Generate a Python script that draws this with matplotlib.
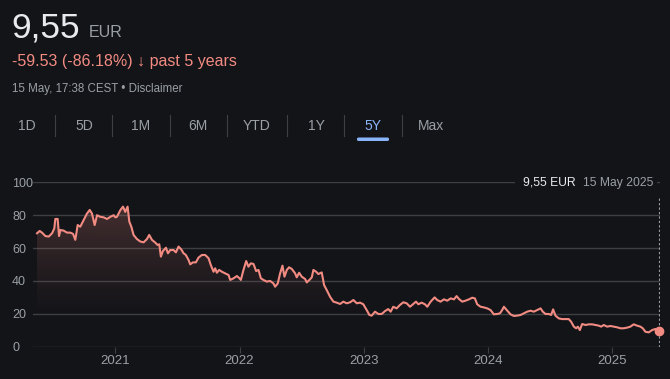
import numpy as np
import matplotlib
matplotlib.use("Agg")
import matplotlib.pyplot as plt
from matplotlib.colors import to_rgb
from matplotlib.patches import PathPatch, FancyBboxPatch, Rectangle
from matplotlib.path import Path
from matplotlib.lines import Line2D

# time as decimal years, price in EUR
t = [2020.370, 2020.391, 2020.410, 2020.437, 2020.464, 2020.491, 2020.509, 2020.517,
     2020.536, 2020.547, 2020.558, 2020.584, 2020.611, 2020.638, 2020.660, 2020.678,
     2020.697, 2020.718, 2020.745, 2020.772, 2020.794, 2020.812, 2020.834, 2020.853,
     2020.879, 2020.906, 2020.933, 2020.960, 2020.987, 2021.000, 2021.013, 2021.040,
     2021.062, 2021.080, 2021.099, 2021.113, 2021.129, 2021.147, 2021.174, 2021.201,
     2021.228, 2021.255, 2021.273, 2021.295, 2021.322, 2021.340, 2021.354, 2021.367,
     2021.383, 2021.408, 2021.424, 2021.442, 2021.469, 2021.488, 2021.509, 2021.531,
     2021.550, 2021.568, 2021.590, 2021.603, 2021.625, 2021.649, 2021.670, 2021.697,
     2021.724, 2021.751, 2021.769, 2021.791, 2021.804, 2021.818, 2021.836, 2021.858,
     2021.885, 2021.912, 2021.925, 2021.952, 2021.979, 2022.000, 2022.011, 2022.032,
     2022.054, 2022.072, 2022.091, 2022.113, 2022.134, 2022.153, 2022.172, 2022.193,
     2022.220, 2022.247, 2022.273, 2022.287, 2022.308, 2022.327, 2022.346, 2022.362,
     2022.381, 2022.399, 2022.421, 2022.448, 2022.461, 2022.480, 2022.501, 2022.528,
     2022.542, 2022.568, 2022.582, 2022.595, 2022.617, 2022.635, 2022.662, 2022.681,
     2022.702, 2022.729, 2022.756, 2022.783, 2022.810, 2022.836, 2022.863, 2022.890,
     2022.917, 2022.944, 2022.971, 2022.997, 2023.024, 2023.046, 2023.064, 2023.091,
     2023.118, 2023.145, 2023.172, 2023.198, 2023.217, 2023.238, 2023.265, 2023.292,
     2023.319, 2023.346, 2023.373, 2023.399, 2023.421, 2023.440, 2023.466, 2023.493,
     2023.512, 2023.539, 2023.571, 2023.592, 2023.619, 2023.646, 2023.673, 2023.700,
     2023.727, 2023.748, 2023.767, 2023.794, 2023.820, 2023.847, 2023.874, 2023.895,
     2023.914, 2023.941, 2023.968, 2023.995, 2024.021, 2024.048, 2024.075, 2024.097,
     2024.115, 2024.129, 2024.156, 2024.182, 2024.209, 2024.236, 2024.263, 2024.290,
     2024.316, 2024.343, 2024.370, 2024.397, 2024.424, 2024.442, 2024.464, 2024.491,
     2024.509, 2024.525, 2024.544, 2024.571, 2024.598, 2024.625, 2024.651, 2024.670,
     2024.692, 2024.710, 2024.724, 2024.740, 2024.759, 2024.786, 2024.812, 2024.839,
     2024.866, 2024.893, 2024.912, 2024.933, 2024.960, 2024.987, 2025.013, 2025.040,
     2025.067, 2025.094, 2025.121, 2025.147, 2025.174, 2025.201, 2025.228, 2025.247,
     2025.268, 2025.295, 2025.322, 2025.349, 2025.375]
price = [69.0, 70.4, 69.4, 67.3, 67.0, 69.0, 72.0, 77.7,
         77.7, 67.3, 71.0, 70.6, 69.4, 69.4, 68.6, 65.0,
         74.0, 73.0, 77.0, 81.0, 83.2, 81.0, 74.0, 80.0,
         79.0, 78.7, 77.7, 79.0, 80.0, 78.7, 79.0, 83.0,
         85.2, 82.0, 85.2, 76.0, 73.0, 68.0, 65.5, 64.0,
         63.5, 65.5, 68.0, 65.0, 63.3, 61.9, 62.3, 54.8,
         58.2, 60.2, 56.8, 58.8, 58.8, 57.4, 60.9, 59.2,
         56.8, 55.8, 52.7, 50.1, 51.3, 51.3, 54.2, 55.8,
         55.8, 53.8, 49.7, 45.6, 47.7, 45.0, 46.7, 45.6,
         44.6, 43.6, 40.6, 41.6, 43.0, 41.6, 40.6, 46.7,
         52.1, 48.7, 50.7, 50.3, 46.0, 46.7, 41.6, 40.6,
         39.6, 40.0, 38.5, 36.5, 38.5, 44.6, 49.3, 42.6,
         46.7, 48.3, 47.3, 44.6, 42.2, 45.0, 42.6, 41.2,
         39.1, 41.0, 42.2, 46.7, 45.6, 44.2, 45.2, 37.5,
         34.5, 30.4, 27.4, 26.8, 26.0, 27.4, 26.4, 27.0,
         28.4, 26.4, 26.8, 25.8, 22.3, 19.3, 18.9, 21.3,
         19.9, 19.9, 21.7, 22.9, 21.3, 24.3, 23.3, 25.4,
         27.0, 26.4, 24.3, 26.0, 27.4, 25.8, 26.8, 25.8,
         24.3, 27.4, 30.0, 28.4, 27.4, 28.8, 28.0, 29.4,
         28.8, 30.8, 29.0, 27.4, 28.0, 28.8, 29.8, 29.4,
         25.8, 24.3, 23.9, 23.3, 22.3, 19.7, 19.9, 20.3,
         22.3, 24.3, 21.9, 19.7, 18.7, 18.9, 19.3, 20.3,
         21.3, 21.9, 21.3, 22.3, 23.3, 21.3, 19.9, 19.9,
         19.3, 22.7, 18.9, 17.2, 16.8, 16.8, 16.8, 15.2,
         12.2, 11.2, 12.2, 10.1, 13.8, 13.2, 13.6, 13.6,
         13.2, 12.8, 12.2, 13.2, 12.2, 12.6, 12.2, 11.8,
         11.2, 11.2, 11.6, 12.2, 13.6, 12.8, 12.2, 11.2,
         9.1, 8.7, 10.1, 10.8, 9.55]

year_ticks = [2021, 2022, 2023, 2024, 2025]
y_ticks = [0, 20, 40, 60, 80, 100]
tabs = ["1D", "5D", "1M", "6M", "YTD", "1Y", "5Y", "Max"]
selected_tab = "5Y"

BG = "#131418"
LINE = "#f28b82"
GRAY = "#9aa0a6"
GRID = "#3c4043"
FONT = ["Liberation Sans", "DejaVu Sans"]

plt.rcParams["font.family"] = FONT

W, H = 670, 379
fig = plt.figure(figsize=(W / 100, H / 100), dpi=100, facecolor=BG)


def fx(px):
    return px / W


def fy(py):
    return 1 - py / H


# header
fig.text(fx(11.5), fy(38), "9,55", color="#e8eaed", fontsize=25.5, va="baseline")
fig.text(fx(89), fy(37), "EUR", color=GRAY, fontsize=11.5, va="baseline")
fig.text(fx(12), fy(66), "-59.53 (-86.18%) \u2193 past 5 years", color=LINE,
         fontsize=11.5, va="baseline")
fig.text(fx(12), fy(92), "15 May, 17:38 CEST \u2022 Disclaimer", color=GRAY,
         fontsize=8.3, va="baseline")

# range tabs
tab_x = [27, 84, 141, 198, 257, 316, 373, 431]
for name, x in zip(tabs, tab_x):
    col = "#8ab4f8" if name == selected_tab else GRAY
    fig.text(fx(x), fy(126), name, color=col, fontsize=10, ha="center", va="center")
for x in [55, 112, 170, 227, 287, 344, 402]:
    fig.add_artist(Line2D([fx(x), fx(x)], [fy(115), fy(136)], color=GRID, lw=0.8))
sel_x = tab_x[tabs.index(selected_tab)]
fig.add_artist(FancyBboxPatch((fx(sel_x - 16), fy(141)), fx(32), (3.5 / H),
                              boxstyle="round,pad=0,rounding_size=0.003",
                              facecolor="#8ab4f8", edgecolor="none",
                              transform=fig.transFigure))

# chart area
ax = fig.add_axes([fx(33), fy(346.7), fx(627), (346.7 - 182.3) / H])
ax.set_facecolor(BG)
x0, x1 = 2021 - (115.3 - 33) / 124.2, 2021 + (660 - 115.3) / 124.2

# gradient fill under the line
n = 256
vals = np.linspace(0, 100, n)
rgba = np.zeros((n, 1, 4))
rgba[..., :3] = to_rgb(LINE)
rgba[:, 0, 3] = 0.22 * np.clip((vals - 15) / 70, 0, 1) ** 1.3
im = ax.imshow(rgba, extent=[x0, x1, 0, 100], origin="lower", aspect="auto",
               zorder=1, interpolation="bilinear")
verts = [(t[0], 0)] + list(zip(t, price)) + [(t[-1], 0), (t[0], 0)]
clip = PathPatch(Path(verts), transform=ax.transData, facecolor="none", edgecolor="none")
ax.add_patch(clip)
im.set_clip_path(clip)

ax.plot(t, price, color=LINE, lw=1.5, zorder=3, solid_joinstyle="round")
ax.plot([t[-1]], [price[-1]], "o", color=LINE, ms=6, zorder=4, clip_on=False)
ax.plot([t[-1], t[-1]], [0, 91.5], color=GRAY, lw=0.8, ls=(0, (2, 2)), zorder=2)

ax.set_xlim(x0, x1)
ax.set_ylim(0, 100)
ax.set_yticks(y_ticks)
ax.set_yticklabels([str(v) for v in y_ticks])
ax.set_xticks(year_ticks)
ax.set_xticklabels([str(v) for v in year_ticks])
ax.grid(axis="y", color=GRID, lw=1.0)
ax.tick_params(axis="y", length=0, pad=15, labelcolor=GRAY, labelsize=9)
for lab in ax.get_yticklabels():
    lab.set_horizontalalignment("left")
ax.tick_params(axis="x", length=4, width=0.8, color=GRID, pad=2,
               labelcolor=GRAY, labelsize=9.5)
for s in ax.spines.values():
    s.set_visible(False)
ax.set_axisbelow(True)

# tooltip box
fig.add_artist(Rectangle((fx(515), fy(193)), fx(142), 21 / H, facecolor=BG,
                         edgecolor="none", transform=fig.transFigure, zorder=5))
fig.text(fx(523), fy(182.5), "9,55 EUR", color="#e8eaed", fontsize=8.7,
         va="center", zorder=6)
fig.text(fx(583), fy(182.5), "15 May 2025", color=GRAY, fontsize=8.7,
         va="center", zorder=6)

fig.savefig("out.png", dpi=100, facecolor=BG)
